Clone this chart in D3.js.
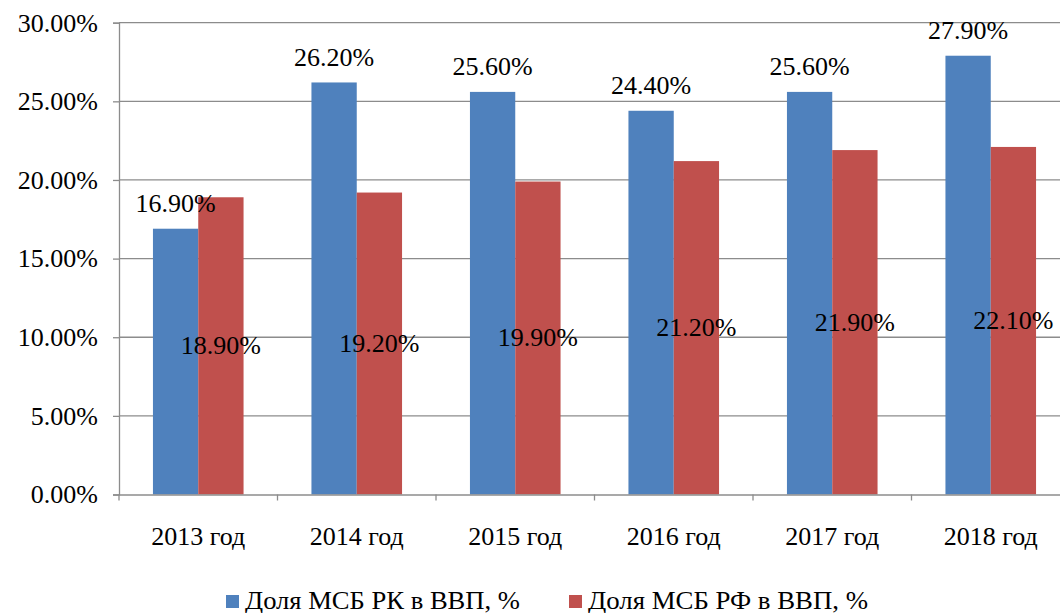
<!DOCTYPE html>
<html>
<head>
<meta charset="utf-8">
<script src="https://cdn.jsdelivr.net/npm/d3@7"></script>
<style>
  body { margin: 0; background: #fff; }
  text { font-family: "Liberation Serif", "Times New Roman", serif; fill: #000; }
</style>
</head>
<body>
<div class="visholder"></div>
<script>
// data
const years = ["2013 год", "2014 год", "2015 год", "2016 год", "2017 год", "2018 год"];
const kzShare = [16.9, 26.2, 25.6, 24.4, 25.6, 27.9];
const ruShare = [18.9, 19.2, 19.9, 21.2, 21.9, 22.1];
const seriesNames = ["Доля МСБ РК в ВВП, %", "Доля МСБ РФ в ВВП, %"];
const yTicks = [0, 5, 10, 15, 20, 25, 30];

const width = 1060, height = 613;
const colors = ["#4F81BD", "#C0504D"];
const plotLeft = 119, plotTop = 22.7, plotBottom = 494.5;
const bandW = 158.5, barW = 45.3;

let svg = d3.select(".visholder").append("svg")
    .attr("width", width)
    .attr("height", height);

// scales
let xScale = d3.scaleBand().domain(years)
    .range([plotLeft, plotLeft + bandW * years.length]).padding(0);
let yScale = d3.scaleLinear().domain([0, 30]).range([plotBottom, plotTop]);

// gridlines
svg.append("g").selectAll("line").data(yTicks.filter(d => d > 0)).enter().append("line")
    .attr("x1", plotLeft).attr("x2", plotLeft + bandW * years.length)
    .attr("y1", d => yScale(d)).attr("y2", d => yScale(d))
    .attr("stroke", "#8c8c8c").attr("stroke-width", 1.3);

// bars
const series = [kzShare, ruShare];
series.forEach((vals, s) => {
    svg.append("g").selectAll("rect").data(vals).enter().append("rect")
        .attr("x", (d, i) => xScale(years[i]) + bandW / 2 - barW + s * barW)
        .attr("y", d => yScale(d))
        .attr("width", barW)
        .attr("height", d => plotBottom - yScale(d))
        .attr("fill", colors[s]);
});

// y axis
let yAxis = d3.axisLeft(yScale).tickValues(yTicks).tickSize(6)
    .tickFormat(d => d.toFixed(2) + "%");
let yG = svg.append("g").attr("transform", `translate(${plotLeft},0)`).call(yAxis);
yG.select(".domain").attr("stroke", "#8c8c8c").attr("stroke-width", 1.3);
yG.selectAll(".tick line").attr("stroke", "#8c8c8c").attr("stroke-width", 1.3);
yG.selectAll(".tick text").attr("x", -21).attr("dy", "0.32em")
    .style("font-size", "26px").style("font-family", "Liberation Serif");

// x axis
let xAxis = d3.axisBottom(xScale).tickSize(0).tickSizeOuter(0);
let xG = svg.append("g").attr("transform", `translate(0,${plotBottom})`).call(xAxis);
xG.select(".domain").attr("stroke", "#8c8c8c").attr("stroke-width", 1.3);
xG.selectAll(".tick text").attr("y", 42).attr("dy", "0.32em")
    .style("font-size", "26px").style("font-family", "Liberation Serif");
// category separators
xG.append("g").selectAll("line").data(d3.range(years.length + 1)).enter().append("line")
    .attr("x1", i => plotLeft + i * bandW).attr("x2", i => plotLeft + i * bandW)
    .attr("y1", 0).attr("y2", 6)
    .attr("stroke", "#8c8c8c").attr("stroke-width", 1.3);

// value labels: blue above bars, red in bar centre
svg.append("g").selectAll("text").data(kzShare).enter().append("text")
    .attr("x", (d, i) => xScale(years[i]) + bandW / 2 - barW / 2)
    .attr("y", d => yScale(d) - 25)
    .attr("dy", "0.32em")
    .attr("text-anchor", "middle")
    .style("font-size", "26px")
    .text(d => d.toFixed(2) + "%");
svg.append("g").selectAll("text").data(ruShare).enter().append("text")
    .attr("x", (d, i) => xScale(years[i]) + bandW / 2 + barW / 2)
    .attr("y", d => (yScale(d) + plotBottom) / 2)
    .attr("dy", "0.32em")
    .attr("text-anchor", "middle")
    .style("font-size", "26px")
    .text(d => d.toFixed(2) + "%");

// legend
const legendX = [226, 569];
const legendLen = [275, 280];
let legend = svg.append("g").selectAll("g").data(seriesNames).enter().append("g")
    .attr("transform", (d, i) => `translate(${legendX[i]},0)`);
legend.append("rect").attr("x", 0).attr("y", 595).attr("width", 13).attr("height", 13)
    .attr("fill", (d, i) => colors[i]);
legend.append("text").attr("x", 19).attr("y", 609)
    .attr("textLength", (d, i) => legendLen[i])
    .attr("lengthAdjust", "spacingAndGlyphs")
    .style("font-size", "25px")
    .text(d => d);
</script>
</body>
</html>
